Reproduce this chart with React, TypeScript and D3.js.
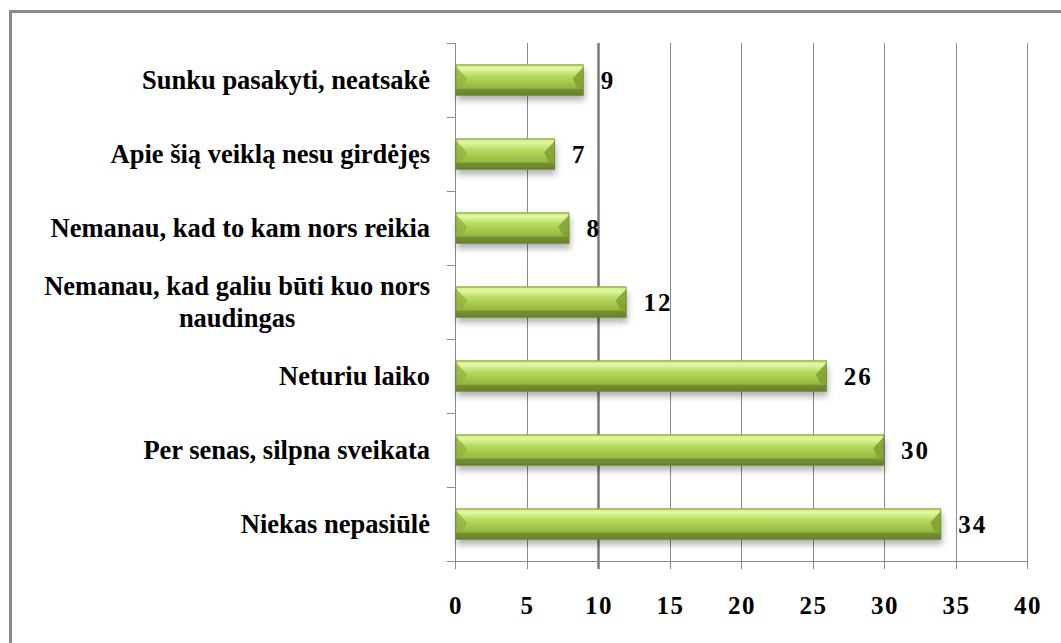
import React, { useEffect, useRef } from "react";
import * as d3 from "d3";

const categories: string[] = [
  "Sunku pasakyti, neatsakė",
  "Apie šią veiklą nesu girdėjęs",
  "Nemanau, kad to kam nors reikia",
  "Nemanau, kad galiu būti kuo nors\nnaudingas",
  "Neturiu laiko",
  "Per senas, silpna sveikata",
  "Niekas nepasiūlė",
];
const values: number[] = [9, 7, 8, 12, 26, 30, 34];
const xTicks: number[] = [0, 5, 10, 15, 20, 25, 30, 35, 40];

const W = 1061;
const H = 643;
const FONT = "Liberation Serif, Tinos, Times New Roman, serif";
const FS = 26.5;
const NFS = 25;

export default function App() {
  const ref = useRef<SVGSVGElement>(null);

  useEffect(() => {
    const svg = d3.select(ref.current);
    svg.selectAll("*").remove();

    const x = d3.scaleLinear().domain([0, 40]).range([455, 1027]);
    const y = d3
      .scaleBand<string>()
      .domain(categories)
      .range([43, 561])
      .paddingInner(0.58)
      .paddingOuter(0.29);

    const defs = svg.append("defs");
    const g = defs
      .append("linearGradient")
      .attr("id", "barGrad")
      .attr("x1", 0)
      .attr("y1", 0)
      .attr("x2", 0)
      .attr("y2", 1);
    [
      [0, "#9cc443"],
      [0.06, "#d8f08c"],
      [0.14, "#e2f7a2"],
      [0.35, "#bcdc62"],
      [0.6, "#a3c64a"],
      [0.76, "#94b740"],
      [0.8, "#728f31"],
      [0.94, "#6a8630"],
      [1, "#5a7428"],
    ].forEach(([o, c]) => g.append("stop").attr("offset", o as number).attr("stop-color", c as string));

    const f = defs
      .append("filter")
      .attr("id", "shadow")
      .attr("x", "-10%")
      .attr("y", "-30%")
      .attr("width", "120%")
      .attr("height", "180%");
    f.append("feDropShadow")
      .attr("dx", 1)
      .attr("dy", 5)
      .attr("stdDeviation", 3)
      .attr("flood-color", "#000")
      .attr("flood-opacity", 0.3);

    // frame
    svg
      .append("rect")
      .attr("x", 10.5)
      .attr("y", 11.5)
      .attr("width", 1100)
      .attr("height", 700)
      .attr("fill", "none")
      .attr("stroke", "#8a8a8a")
      .attr("stroke-width", 3);

    const [y0, y1] = y.range();

    // gridlines
    svg
      .append("g")
      .selectAll("line")
      .data(xTicks.filter((d) => d !== 0))
      .join("line")
      .attr("x1", (d) => Math.round(x(d)) + 0.5)
      .attr("x2", (d) => Math.round(x(d)) + 0.5)
      .attr("y1", y0)
      .attr("y2", y1 + 8)
      .attr("stroke", (d) => (d === 10 ? "#7a7a7a" : "#8a8a8a"))
      .attr("stroke-width", (d) => (d === 10 ? 2.5 : 1));

    // x axis line
    svg
      .append("line")
      .attr("x1", x(0))
      .attr("x2", x(40) + 1)
      .attr("y1", y1 + 0.5)
      .attr("y2", y1 + 0.5)
      .attr("stroke", "#8a8a8a");
    // y axis line
    svg
      .append("line")
      .attr("x1", x(0) + 0.5)
      .attr("x2", x(0) + 0.5)
      .attr("y1", y0)
      .attr("y2", y1 + 8)
      .attr("stroke", "#8a8a8a");
    // y ticks at band boundaries
    const step = y.step();
    const bounds = d3.range(categories.length + 1).map((i) => y0 + i * step);
    svg
      .append("g")
      .selectAll("line")
      .data(bounds)
      .join("line")
      .attr("x1", x(0) - 8)
      .attr("x2", x(0))
      .attr("y1", (d) => Math.round(d) + 0.5)
      .attr("y2", (d) => Math.round(d) + 0.5)
      .attr("stroke", "#8a8a8a");

    // x tick labels
    svg
      .append("g")
      .selectAll("text")
      .data(xTicks)
      .join("text")
      .attr("x", (d) => x(d) + 1)
      .attr("y", 605)
      .attr("dy", "0.35em")
      .attr("text-anchor", "middle")
      .style("font-family", FONT)
      .attr("font-weight", "bold")
      .attr("font-size", NFS)
      .attr("letter-spacing", 1.5)
      .text((d) => String(d));

    // bars
    const bh = y.bandwidth();
    const bars = svg
      .append("g")
      .selectAll("g")
      .data(categories.map((c, i) => ({ c, v: values[i] })))
      .join("g");

    bars
      .append("rect")
      .attr("x", x(0) + 1)
      .attr("y", (d) => y(d.c)!)
      .attr("width", (d) => x(d.v) - x(0) - 1)
      .attr("height", bh)
      .attr("fill", "url(#barGrad)")
      .attr("filter", "url(#shadow)");

    const bev = 11;
    // left bevel
    bars
      .append("path")
      .attr("d", (d) => {
        const bx = x(0) + 1;
        const by = y(d.c)!;
        return `M${bx},${by + 2}L${bx + bev},${by + bh * 0.45}L${bx + bev * 0.6},${by + bh * 0.74}L${bx},${by + bh * 0.78}Z`;
      })
      .attr("fill", "#8fb23c")
      .attr("opacity", 0.75);
    // right bevel
    bars
      .append("path")
      .attr("d", (d) => {
        const bx = x(d.v);
        const by = y(d.c)!;
        return `M${bx},${by + 2}L${bx - bev},${by + bh * 0.45}L${bx - bev * 0.6},${by + bh * 0.74}L${bx},${by + bh * 0.78}Z`;
      })
      .attr("fill", "#7f9f34")
      .attr("opacity", 0.85);
    // outline
    bars
      .append("rect")
      .attr("x", x(0) + 1)
      .attr("y", (d) => y(d.c)! + 0.5)
      .attr("width", (d) => x(d.v) - x(0) - 1.5)
      .attr("height", bh - 1)
      .attr("fill", "none")
      .attr("stroke", "#6e8c30")
      .attr("stroke-opacity", 0.6);

    // value labels
    svg
      .append("g")
      .selectAll("text")
      .data(categories.map((c, i) => ({ c, v: values[i] })))
      .join("text")
      .attr("x", (d) => x(d.v) + 17)
      .attr("y", (d) => y(d.c)! + bh / 2)
      .attr("dy", "0.35em")
      .style("font-family", FONT)
      .attr("font-weight", "bold")
      .attr("font-size", NFS)
      .attr("letter-spacing", 2)
      .text((d) => String(d.v));

    // category labels
    const labelG = svg.append("g");
    categories.forEach((c) => {
      const lines = c.split("\n");
      const cy = y(c)! + bh / 2;
      const lh = 32;
      const t = labelG
        .append("text")
        .style("font-family", FONT)
        .attr("font-weight", "bold")
        .attr("font-size", FS)
        .attr("text-anchor", "end");
      if (lines.length === 1) {
        t.append("tspan").attr("x", 430).attr("y", cy).attr("dy", "0.33em").text(lines[0]);
      } else {
        const tmp = labelG
          .append("text")
          .style("font-family", FONT)
          .attr("font-weight", "bold")
          .attr("font-size", FS)
          .text(lines[0]);
        const w = (tmp.node() as SVGTextElement).getComputedTextLength();
        tmp.remove();
        const mid = 430 - w / 2;
        t.attr("text-anchor", "middle");
        lines.forEach((ln, i) => {
          t.append("tspan")
            .attr("x", mid)
            .attr("y", cy + (i - (lines.length - 1) / 2) * lh)
            .attr("dy", "0.33em")
            .text(ln);
        });
      }
    });
  }, []);

  return (
    <svg
      ref={ref}
      width={W}
      height={H}
      style={{ position: "absolute", left: 0, top: 0, background: "#fff" }}
    />
  );
}
